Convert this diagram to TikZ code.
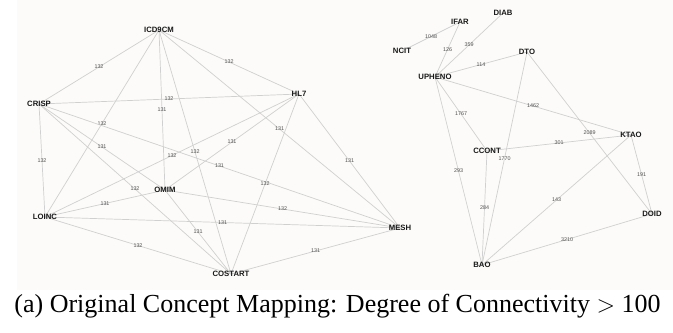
\documentclass[tikz,border=0pt]{standalone}
\usepackage{fontspec}
\setmainfont{Liberation Serif}
\newfontfamily\graphfont{Liberation Sans}
\usetikzlibrary{backgrounds}
\definecolor{Paper}{HTML}{FCFBF9}
\definecolor{EdgeGrey}{HTML}{D0D0D0}
\definecolor{WeightGrey}{HTML}{505050}
\tikzset{
  concept/.style={font=\graphfont\bfseries\fontsize{6.6}{7}\selectfont,text=black!90,inner sep=0pt},
  link/.style={draw=EdgeGrey,line width=0.6pt},
  weight/.style={font=\graphfont\fontsize{4.6}{5}\selectfont,text=WeightGrey,inner sep=0.3pt}
}

\begin{document}
\begin{tikzpicture}[x=0.3mm,y=-0.3mm]
  \useasboundingbox (0,0) rectangle (673,332);
  % left cluster
  \node[concept] (icd) at (159,30) {ICD9CM};
  \node[concept] (crisp) at (39,104) {CRISP};
  \node[concept] (hl) at (299,94) {HL7};
  \node[concept] (loinc) at (45,217) {LOINC};
  \node[concept] (omim) at (165,190) {OMIM};
  \node[concept] (costart) at (231,274) {COSTART};
  \node[concept] (mesh) at (400,228) {MESH};
  % right cluster
  \node[concept] (ncit) at (402,51) {NCIT};
  \node[concept] (ifar) at (460,22) {IFAR};
  \node[concept] (diab) at (503,13) {DIAB};
  \node[concept] (upheno) at (435,77) {UPHENO};
  \node[concept] (dto) at (527,52) {DTO};
  \node[concept] (ktao) at (631,135) {KTAO};
  \node[concept] (ccont) at (487,151) {CCONT};
  \node[concept] (doid) at (652,214) {DOID};
  \node[concept] (bao) at (482,265) {BAO};
  \begin{scope}[on background layer]
    \fill[Paper] (17,0) rectangle (673,290);
    \foreach \a/\b/\w in {icd/crisp/132,icd/hl/132,icd/loinc/132,icd/omim/131,
        icd/costart/132,icd/mesh/131,crisp/hl/132,crisp/loinc/132,crisp/omim/131,
        crisp/costart/132,crisp/mesh/131,hl/loinc/132,hl/omim/131,hl/costart/132,
        hl/mesh/131,loinc/omim/131,loinc/costart/132,loinc/mesh/131,
        omim/costart/131,omim/mesh/132,costart/mesh/131}
      \draw[link] (\a.center) -- node[weight]{\w} (\b.center);
    \foreach \a/\b/\w in {ncit/ifar/1048,ifar/upheno/126,diab/upheno/359,
        upheno/dto/114,upheno/ktao/1462,upheno/ccont/1767,upheno/bao/293,
        dto/bao/1770,dto/doid/2089,ccont/ktao/301,ccont/bao/284,
        ktao/doid/191,ktao/bao/143,doid/bao/3210}
      \draw[link] (\a.center) -- node[weight]{\w} (\b.center);
  \end{scope}
  \node[font=\fontsize{22.2}{26}\selectfont,anchor=base] (caption) at (337.5,312)
    {(a) Original Concept Mapping: Degree of Connectivity $>$ 100};
\end{tikzpicture}
\end{document}
